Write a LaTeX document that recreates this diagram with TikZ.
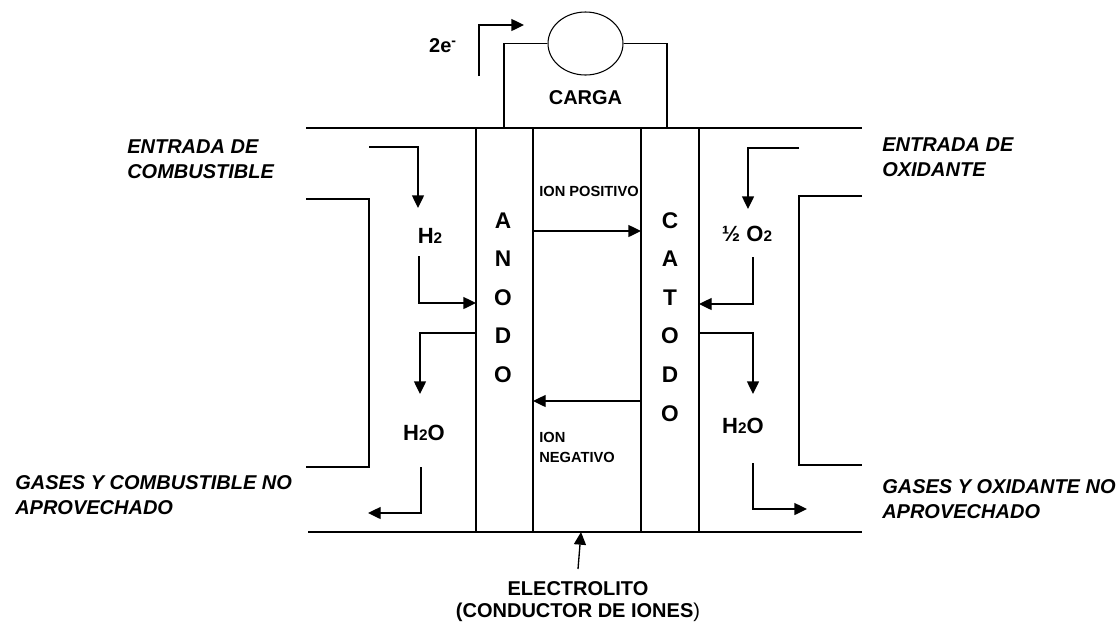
\documentclass[tikz,border=0pt]{standalone}
\usepackage{fontspec}
\setmainfont{Liberation Sans}
\usetikzlibrary{arrows.meta,shapes.geometric,fit}
\newcommand{\chemsub}[1]{\raisebox{-0.7pt}{\fontsize{11.5}{12}\selectfont #1}}
\tikzset{
  >={Triangle[length=9.5pt,width=9pt]},
  wall/.style={line width=1.1pt},
  wire/.style={line width=0.8pt},
  flow/.style={->, line width=1pt},
  electrode/.style={draw, line width=0.8pt, inner sep=0pt},
  letter/.style={font=\bfseries\fontsize{17}{20}\selectfont, inner sep=0pt, text height=12.2pt, text depth=0pt},
  gas/.style={font=\bfseries\fontsize{16.5}{20}\selectfont, inner sep=0pt, text height=12pt, text depth=0pt},
  tag/.style={font=\bfseries\fontsize{15}{16.5}\selectfont, inner sep=0pt, align=center},
  side/.style={font=\bfseries\itshape\fontsize{15}{18.75}\selectfont, inner sep=0pt, align=left, anchor=west},
  ion/.style={font=\bfseries\fontsize{11}{15}\selectfont, inner sep=0pt, align=left, anchor=west},
}

\begin{document}
\begin{tikzpicture}[x=0.75pt,y=-0.75pt]
  \useasboundingbox (0,0) rectangle (1120,626);

  % cell body
  \node[electrode, fit={(476,128) (533,532)}] (anode) {};
  \node[electrode, fit={(641,128) (699,532)}] (cathode) {};
  \draw[wall] (306,128) -- (862,128);
  \draw[wall] (308,532) -- (862,532);
  \draw[wall] (306,199) -| (369,467) -- (306,467);
  \draw[wall] (862,196) -| (799,465) -- (862,465);

  \foreach \l [count=\i from 0] in {A,N,O,D,O}
    \node[letter] (an\i) at (503,{220+38.6*\i}) {\l};
  \foreach \l [count=\i from 0] in {C,A,T,O,D,O}
    \node[letter] (ca\i) at (670,{220+38.6*\i}) {\l};

  % external circuit
  \node[draw, ellipse, line width=0.8pt, inner sep=0pt, minimum width=56.25pt, minimum height=47.25pt] (load) at (585.5,43.5) {};
  \coordinate (wl) at (504,128);
  \coordinate (wr) at (667,128);
  \draw[wire] (wl) |- (load.west);
  \draw[wire] (load.east) -| (wr);
  \node[tag] (carga) at (585.5,98) {CARGA};
  \coordinate (e0) at (479,76);
  \coordinate (e1) at (524,25);
  \draw[flow] (e0) |- (e1);
  \node[tag] (elec) at (443,46) {2e\textsuperscript{-}};

  % gases
  \node[gas] (h2) at (430,235) {H\chemsub{2}};
  \node[gas] (o2) at (747,233) {½ O\chemsub{2}};
  \node[gas] (h2oa) at (424,432) {H\chemsub{2}O};
  \node[gas] (h2oc) at (743,425) {H\chemsub{2}O};

  \path (369,147) coordinate (fin)  (418,208) coordinate (fdn)
        (419,256) coordinate (fup)  (476,303) coordinate (ain)
        (476,333) coordinate (aout) (420,394) coordinate (wdn)
        (421,467) coordinate (xl)   (368,513) coordinate (xlend);
  \draw[flow] (fin) -| (fdn);
  \draw[flow] (fup) |- (ain);
  \draw[flow] (aout) -| (wdn);
  \draw[flow] (xl) |- (xlend);

  \path (799,148) coordinate (oin)  (748,209) coordinate (odn)
        (753,257) coordinate (oup)  (699,304) coordinate (cin)
        (699,333) coordinate (cout) (753,394) coordinate (cdn)
        (753,463) coordinate (xr)   (807,509) coordinate (xrend);
  \draw[flow] (oin) -| (odn);
  \draw[flow] (oup) |- (cin);
  \draw[flow] (cout) -| (cdn);
  \draw[flow] (xr) |- (xrend);

  % ions
  \node[ion] (pos) at (539,191) {ION POSITIVO};
  \node[ion] (neg) at (539,447) {ION\\NEGATIVO};
  \path (533,231) coordinate (p0) (641,231) coordinate (p1)
        (641,401) coordinate (n0) (533,401) coordinate (n1);
  \draw[flow] (p0) -- (p1);
  \draw[flow] (n0) -- (n1);

  % electrolyte
  \coordinate (el0) at (578,569);
  \coordinate (el1) at (581,532);
  \draw[flow] (el0) -- (el1);
  \node[tag] (electrolito) at (578,602) {ELECTROLITO\\(CONDUCTOR DE IONES{\mdseries)}};

  % side labels
  \node[side] (fuel) at (127,159.5) {ENTRADA DE\\COMBUSTIBLE};
  \node[side] (oxid) at (882,157.5) {ENTRADA DE\\OXIDANTE};
  \node[side] (fuelout) at (15,495) {GASES Y COMBUSTIBLE NO\\APROVECHADO};
  \node[side] (oxout) at (882,499) {GASES Y OXIDANTE NO\\APROVECHADO};
\end{tikzpicture}
\end{document}
